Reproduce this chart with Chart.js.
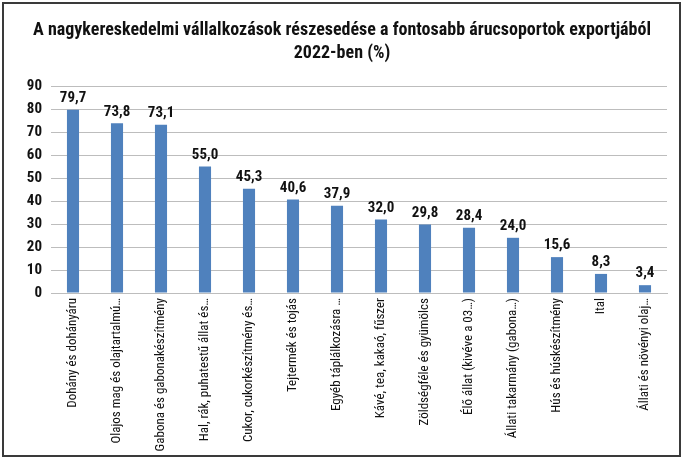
<!DOCTYPE html>
<html>
<head>
<meta charset="utf-8">
<script src="https://cdn.jsdelivr.net/npm/chart.js@4/dist/chart.umd.min.js"></script>
<style>
html,body{margin:0;padding:0;background:#fff;}
#wrap{position:absolute;left:0;top:0;width:684px;height:461px;}
</style>
</head>
<body>
<div id="wrap"><canvas id="c" width="684" height="461"></canvas></div>
<script>
const titleLines = ["A nagykereskedelmi vállalkozások részesedése a fontosabb árucsoportok exportjából", "2022-ben (%)"];
const categories = [
  "Dohány és dohányáru",
  "Olajos mag és olajtartalmú…",
  "Gabona és gabonakészítmény",
  "Hal, rák, puhatestű állat és…",
  "Cukor, cukorkészítmény és…",
  "Tejtermék és tojás",
  "Egyéb táplálkozásra …",
  "Kávé, tea, kakaó, fűszer",
  "Zöldségféle és gyümölcs",
  "Élő állat (kivéve a 03…)",
  "Állati takarmány (gabona…)",
  "Hús és húskészítmény",
  "Ital",
  "Állati és növényi olaj…"
];
const values = [79.7, 73.8, 73.1, 55.0, 45.3, 40.6, 37.9, 32.0, 29.8, 28.4, 24.0, 15.6, 8.3, 3.4];
const yTicks = [0, 10, 20, 30, 40, 50, 60, 70, 80, 90];

const FONT = "'Roboto Condensed', 'DejaVu Sans Condensed', sans-serif";

const frame = {
  id: 'frame',
  beforeDraw(chart) {
    const ctx = chart.ctx;
    ctx.save();
    ctx.fillStyle = '#fff';
    ctx.fillRect(0, 0, chart.width, chart.height);
    ctx.restore();
  },
  afterDraw(chart) {
    const ctx = chart.ctx;
    ctx.save();
    ctx.fillStyle = '#111';
    ctx.font = "normal bold 18px " + FONT;
    ctx.textAlign = 'center';
    ctx.textBaseline = 'middle';
    ctx.fillText(titleLines[0], 342, 30);
    ctx.fillText(titleLines[1], 342, 53);
    ctx.strokeStyle = '#3a3a3a';
    ctx.lineWidth = 2;
    ctx.strokeRect(3, 3, 677, 453);
    ctx.restore();
  }
};

const valueLabels = {
  id: 'valueLabels',
  afterDatasetsDraw(chart) {
    const ctx = chart.ctx;
    const meta = chart.getDatasetMeta(0);
    ctx.save();
    ctx.font = "normal bold 15px " + FONT;
    ctx.fillStyle = '#111';
    ctx.textAlign = 'center';
    ctx.textBaseline = 'bottom';
    meta.data.forEach((bar, i) => {
      const txt = values[i].toFixed(1).replace('.', ',');
      ctx.fillText(txt, bar.x, bar.y - 4);
    });
    ctx.restore();
  }
};

new Chart(document.getElementById('c'), {
  type: 'bar',
  data: {
    labels: categories,
    datasets: [{
      data: values,
      backgroundColor: '#4F81BD',
      borderWidth: 0,
      barPercentage: 0.55,
      categoryPercentage: 0.5
    }]
  },
  options: {
    responsive: false,
    animation: false,
    devicePixelRatio: 1,
    layout: { padding: { left: 0, right: 17, top: 86, bottom: 0 } },
    plugins: {
      legend: { display: false },
      tooltip: { enabled: false },
      title: { display: false }
    },
    scales: {
      x: {
        grid: { display: false, drawTicks: false },
        border: { display: true, color: '#bdbdbd', width: 1 },
        ticks: {
          autoSkip: false,
          maxRotation: 90,
          minRotation: 90,
          padding: 5,
          color: '#111',
          font: { family: FONT, size: 13 }
        },
        afterFit(scale) { scale.height = 168; }
      },
      y: {
        min: 0,
        max: 90,
        afterBuildTicks(scale) { scale.ticks = yTicks.map(v => ({ value: v })); },
        grid: { color: '#bdbdbd', lineWidth: 1, drawTicks: false },
        border: { display: false },
        ticks: {
          padding: 9,
          color: '#111',
          font: { family: FONT, size: 15, weight: 'bold' }
        },
        afterFit(scale) { scale.width = 51; }
      }
    }
  },
  plugins: [frame, valueLabels]
});
</script>
</body>
</html>
